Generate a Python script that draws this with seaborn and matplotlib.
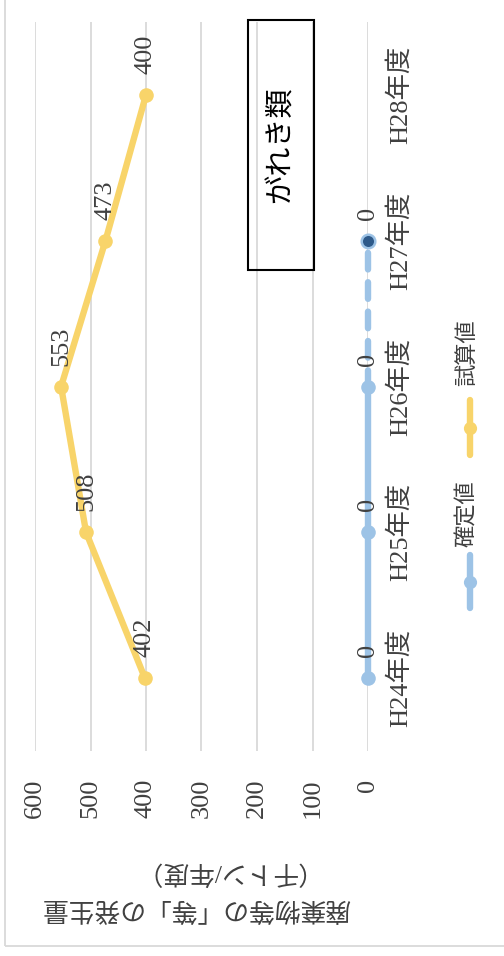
import matplotlib.pyplot as plt
import matplotlib.patches as mpatches
from matplotlib.lines import Line2D
import pandas as pd
import seaborn as sns

# data (chart is drawn turned 90 degrees, as in the reference)
years = ['H24年度', 'H25年度', 'H26年度', 'H27年度', 'H28年度']
confirmed = [0, 0, 0]            # 確定値 H24-H26
confirmed_prelim = [0, 0]        # H26-H27 dashed part
estimated = [402, 508, 553, 473, 400]   # 試算値
value_ticks = [0, 100, 200, 300, 400, 500, 600]

blue = '#9DC3E6'
dark_blue = '#2E5A8A'
yellow = '#F8D46A'
grey_txt = '#404040'
grid_col = '#D9D9D9'

sns.set_theme(style='white')
plt.rcParams['font.family'] = ['Liberation Serif', 'Noto Sans CJK JP']

W, H = 504, 956
fig = plt.figure(figsize=(W / 100, H / 100), dpi=100)
ax = fig.add_axes([35 / W, (H - 751) / H, 333 / W, 729 / H])

df_est = pd.DataFrame({'pos': range(len(estimated)), 'value': estimated})
df_conf = pd.DataFrame({'pos': range(len(confirmed)), 'value': confirmed})
df_pre = pd.DataFrame({'pos': [2, 3], 'value': confirmed_prelim})

lw = 4.6
ms = 10.5
num_fs = 19
sns.lineplot(data=df_conf, x='value', y='pos', orient='y', color=blue, lw=lw,
             marker='o', markersize=ms, markeredgewidth=0, clip_on=False,
             zorder=3, ax=ax)
sns.lineplot(data=df_pre, x='value', y='pos', orient='y', color=blue, lw=lw,
             linestyle=(0, (2.6, 2.0)), dash_capstyle='round', clip_on=False,
             zorder=3, ax=ax)
sns.scatterplot(x=[confirmed_prelim[-1]], y=[3], color=dark_blue, s=95,
                edgecolor=blue, linewidth=1.8, clip_on=False, zorder=4, ax=ax)
sns.lineplot(data=df_est, x='value', y='pos', orient='y', color=yellow, lw=lw,
             marker='o', markersize=ms, markeredgewidth=0, clip_on=False,
             zorder=3, ax=ax)

# data labels
for i, v in enumerate(confirmed + [confirmed_prelim[-1]]):
    ax.annotate(str(v), (v, i), xytext=(0, 15), textcoords='offset points',
                rotation=90, ha='center', va='bottom', fontsize=num_fs, color=grey_txt)
for i, v in enumerate(estimated):
    ax.annotate(str(v), (v, i), xytext=(0, 15), textcoords='offset points',
                rotation=90, ha='center', va='bottom', fontsize=num_fs, color=grey_txt)

ax.set_xlim(600, 0)
ax.set_ylim(-0.5, 4.5)
ax.set_xticks(value_ticks)
ax.set_xticklabels([str(t) for t in value_ticks], rotation=90, fontsize=num_fs, color=grey_txt)
ax.set_yticks(range(len(years)))
ax.set_yticklabels(years, rotation=90, va='center', fontsize=num_fs, color=grey_txt)
ax.yaxis.tick_right()
ax.tick_params(axis='x', length=0, pad=20)
ax.tick_params(axis='y', length=0, pad=14)
ax.set_xlabel('')
ax.set_ylabel('')
ax.grid(axis='x', color=grid_col, lw=1.3)
ax.grid(axis='y', visible=False)
for s in ax.spines.values():
    s.set_visible(False)

# axis title (upside down, as in the reference)
fig.text(196 / W, 1 - 907 / H, '廃棄物等の「等」の発生量', rotation=180,
         ha='center', va='center', fontsize=18.5, color=grey_txt)
fig.text(195 / W, 1 - 872 / H, '（千トン/年度）', rotation=180,
         ha='center', va='center', fontsize=18.5, color=grey_txt)

# title box
fig.add_artist(mpatches.Rectangle((248 / W, 1 - 270 / H), 66 / W, 250 / H,
                                  transform=fig.transFigure, fill=False,
                                  edgecolor='black', lw=1.5))
fig.text(281 / W, 1 - 145 / H, 'がれき類', rotation=90, ha='center', va='center',
         fontsize=21, color='black')

# legend
for y0, y1, col, label, ty in [(555, 608, blue, '確定値', 514),
                               (400, 455, yellow, '試算値', 353)]:
    fig.add_artist(Line2D([470 / W, 470 / W], [1 - y0 / H, 1 - y1 / H],
                          transform=fig.transFigure, color=col, lw=lw,
                          solid_capstyle='round'))
    fig.add_artist(Line2D([470 / W], [1 - (y0 + y1) / 2 / H],
                          transform=fig.transFigure, color=col, marker='o',
                          markersize=9.5, markeredgewidth=0))
    fig.text(468 / W, 1 - ty / H, label, rotation=90, ha='center', va='center',
             fontsize=16, color=grey_txt)

# outer frame
fig.add_artist(mpatches.Rectangle((5 / W, 10 / H), 600 / W, 1000 / H,
                                  transform=fig.transFigure, fill=False,
                                  edgecolor=grid_col, lw=1.3))

fig.savefig('out.png', dpi=100)
